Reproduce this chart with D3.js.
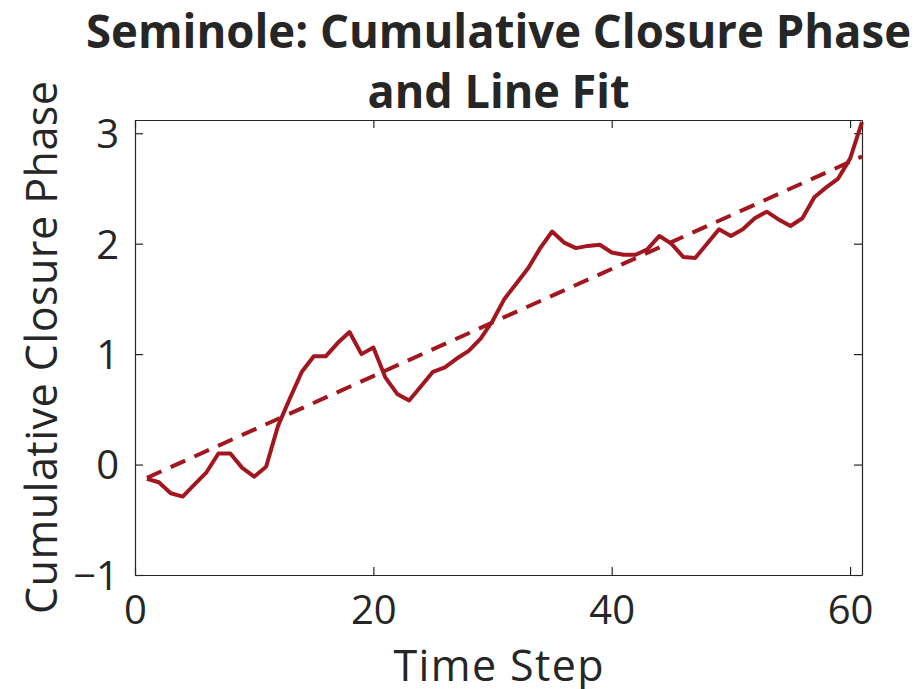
<!DOCTYPE html>
<html>
<head>
<meta charset="utf-8">
<script src="https://cdn.jsdelivr.net/npm/d3@7"></script>
<style>
  html, body { margin: 0; padding: 0; background: #fff; }
  svg { display: block; }
  text { font-family: "Open Sans", "DejaVu Sans", sans-serif; fill: #262626; }
</style>
</head>
<body>
<svg id="chart" width="922" height="689"></svg>
<script>
// Cumulative closure phase per time step
const timeSteps = d3.range(1, 62);
const closurePhase = [
  -0.13, -0.16, -0.26, -0.29, -0.18, -0.07, 0.10, 0.10, -0.03, -0.11,
  -0.02, 0.35, 0.60, 0.84, 0.98, 0.98, 1.10, 1.20, 1.00, 1.06,
  0.79, 0.64, 0.58, 0.71, 0.84, 0.88, 0.96, 1.03, 1.14, 1.30,
  1.50, 1.64, 1.78, 1.96, 2.11, 2.01, 1.96, 1.98, 1.99, 1.92,
  1.90, 1.90, 1.95, 2.07, 2.00, 1.88, 1.87, 2.00, 2.13, 2.07,
  2.13, 2.23, 2.29, 2.22, 2.16, 2.23, 2.42, 2.51, 2.59, 2.77,
  3.10
];
// Line fit endpoints
const fitSteps = [1, 61];
const fitValues = [-0.12, 2.79];

const xTicks = [0, 20, 40, 60];
const yTicks = [-1, 0, 1, 2, 3];

const margin = { left: 135, right: 60, top: 120, bottom: 114 };
const W = 922, H = 689;
const svg = d3.select("#chart");

const x = d3.scaleLinear().domain([0, 61]).range([margin.left, W - margin.right]);
const y = d3.scaleLinear().domain([-1, 3.12]).range([H - margin.bottom, margin.top]);

const axisColor = "#262626";
const lineColor = "#a2171f";
const tickLen = 8;

// axis box with inward ticks on all four sides
const g = svg.append("g");
const fmt = d => d < 0 ? "\u2212" + Math.abs(d) : String(d);

const axBottom = g.append("g").attr("transform", `translate(0,${y(-1)})`)
  .call(d3.axisBottom(x).tickValues(xTicks).tickSizeInner(-tickLen).tickSizeOuter(0).tickPadding(21).tickFormat(fmt));
const axTop = g.append("g").attr("transform", `translate(0,${y(3.12)})`)
  .call(d3.axisTop(x).tickValues(xTicks).tickSizeInner(-tickLen).tickSizeOuter(0).tickFormat(""));
const axLeft = g.append("g").attr("transform", `translate(${x(0)},0)`)
  .call(d3.axisLeft(y).tickValues(yTicks).tickSizeInner(-tickLen).tickSizeOuter(0).tickPadding(16).tickFormat(fmt));
const axRight = g.append("g").attr("transform", `translate(${x(61)},0)`)
  .call(d3.axisRight(y).tickValues(yTicks).tickSizeInner(-tickLen).tickSizeOuter(0).tickFormat(""));

[axBottom, axTop, axLeft, axRight].forEach(a => {
  a.selectAll("path.domain").attr("stroke", axisColor).attr("stroke-width", 1.2);
  a.selectAll(".tick line").attr("stroke", axisColor).attr("stroke-width", 1.2);
  a.selectAll(".tick text").style("font-size", "40px").attr("fill", axisColor)
    .style("font-family", "'Open Sans', sans-serif");
});
axBottom.selectAll(".tick text").attr("dy", "0.71em");
axLeft.selectAll(".tick text").attr("dy", "0.36em");

// data line
const line = d3.line().x((d, i) => x(timeSteps[i])).y(d => y(d));
svg.append("path")
  .datum(closurePhase)
  .attr("d", line)
  .attr("fill", "none")
  .attr("stroke", lineColor)
  .attr("stroke-width", 4)
  .attr("stroke-linejoin", "round");

// fitted line
const fitLine = d3.line().x((d, i) => x(fitSteps[i])).y(d => y(d));
svg.append("path")
  .datum(fitValues)
  .attr("d", fitLine)
  .attr("fill", "none")
  .attr("stroke", lineColor)
  .attr("stroke-width", 4)
  .attr("stroke-dasharray", "16,10");

// title, two centred lines over the axes
const cx = (x(0) + x(61)) / 2;
const title = svg.append("text")
  .attr("text-anchor", "middle")
  .style("font-size", "46px").style("font-weight", "bold").attr("fill", "#000");
title.append("tspan").attr("x", cx).attr("y", 48)
  .attr("textLength", 825).attr("lengthAdjust", "spacingAndGlyphs")
  .text("Seminole: Cumulative Closure Phase");
title.append("tspan").attr("x", cx).attr("y", 108)
  .attr("textLength", 262).attr("lengthAdjust", "spacingAndGlyphs")
  .text("and Line Fit");

// axis labels
svg.append("text")
  .attr("x", cx).attr("y", 681).attr("text-anchor", "middle")
  .attr("textLength", 210).attr("lengthAdjust", "spacing")
  .style("font-size", "43px").text("Time Step");
svg.append("text")
  .attr("transform", `translate(57,${(y(-1) + y(3.12)) / 2}) rotate(-90)`)
  .attr("text-anchor", "middle")
  .attr("textLength", 533).attr("lengthAdjust", "spacing")
  .style("font-size", "43px").text("Cumulative Closure Phase");
</script>
</body>
</html>
